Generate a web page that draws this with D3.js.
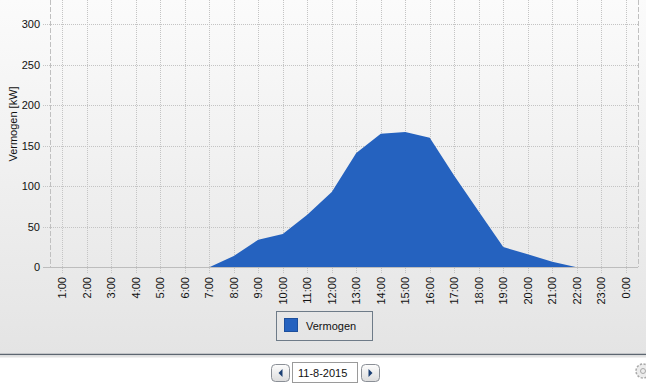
<!DOCTYPE html>
<html>
<head>
<meta charset="utf-8">
<script src="https://cdn.jsdelivr.net/npm/d3@7"></script>
<style>
  body { margin: 0; background: #fff; }
  svg { display: block; font-family: "Liberation Sans", Arial, sans-serif; }
</style>
</head>
<body>
<svg id="chart" width="646" height="385"></svg>
<script>
// hours on the x axis
const hours = ["1:00", "2:00", "3:00", "4:00", "5:00", "6:00", "7:00", "8:00",
  "9:00", "10:00", "11:00", "12:00", "13:00", "14:00", "15:00", "16:00",
  "17:00", "18:00", "19:00", "20:00", "21:00", "22:00", "23:00", "0:00"];
// power per hour (kW)
const vermogen = [0, 0, 0, 0, 0, 0, 0, 14, 34, 41, 65, 93, 141, 165, 167, 160,
  113, 69, 25, 16, 7, 0, 0, 0];
const yTicks = [0, 50, 100, 150, 200, 250, 300];
const seriesName = "Vermogen";
const dateLabel = "11-8-2015";

const W = 646, H = 385;
const margin = { top: 0, right: 8, bottom: 118, left: 50 };
const svg = d3.select("#chart");

// background gradient
const defs = svg.append("defs");
const bg = defs.append("linearGradient").attr("id", "bg")
  .attr("x1", 0).attr("y1", 0).attr("x2", 0).attr("y2", 1);
bg.append("stop").attr("offset", "0%").attr("stop-color", "#fbfbfb");
bg.append("stop").attr("offset", "100%").attr("stop-color", "#e4e4e4");
const btn = defs.append("linearGradient").attr("id", "btn")
  .attr("x1", 0).attr("y1", 0).attr("x2", 0).attr("y2", 1);
btn.append("stop").attr("offset", "0%").attr("stop-color", "#fdfdfd");
btn.append("stop").attr("offset", "100%").attr("stop-color", "#dcdcdc");

svg.append("rect").attr("width", W).attr("height", 354).attr("fill", "url(#bg)");

const x = d3.scalePoint().domain(hours).range([50, 638]).padding(0.5);
const y = d3.scaleLinear().domain([0, 330]).range([267.3, 0]);

// grid
const grid = svg.append("g");
grid.selectAll("line.h").data(yTicks.filter(d => d > 0)).enter().append("line")
  .attr("x1", 43).attr("x2", 638)
  .attr("y1", d => Math.round(y(d)) + 0.5).attr("y2", d => Math.round(y(d)) + 0.5)
  .attr("stroke", "#c4c4c4").attr("stroke-dasharray", "1,1");
grid.selectAll("line.v").data(hours).enter().append("line")
  .attr("x1", d => Math.round(x(d)) + 0.5).attr("x2", d => Math.round(x(d)) + 0.5)
  .attr("y1", 0).attr("y2", 274)
  .attr("stroke", "#c4c4c4").attr("stroke-dasharray", "1,1");

// left and right borders
svg.append("line").attr("x1", 50.5).attr("x2", 50.5).attr("y1", 0).attr("y2", 267)
  .attr("stroke", "#c0c0c0").attr("stroke-dasharray", "5,2");
svg.append("line").attr("x1", 638.5).attr("x2", 638.5).attr("y1", 0).attr("y2", 267)
  .attr("stroke", "#c0c0c0").attr("stroke-dasharray", "5,2");

// area
const area = d3.area()
  .x((d, i) => x(hours[i]))
  .y0(y(0))
  .y1(d => y(d));
svg.append("path").datum(vermogen)
  .attr("d", area)
  .attr("fill", "#2562bf");

// x axis baseline
svg.append("line").attr("x1", 43).attr("x2", 638).attr("y1", 267.5).attr("y2", 267.5)
  .attr("stroke", "#bdbdbd");

// y tick labels
svg.append("g").selectAll("text").data(yTicks).enter().append("text")
  .attr("x", 40).attr("y", d => y(d)).attr("dy", "0.35em")
  .attr("text-anchor", "end").attr("font-size", 11).attr("fill", "#111")
  .text(d => d);

// x tick labels
svg.append("g").selectAll("text").data(hours).enter().append("text")
  .attr("transform", d => "translate(" + x(d) + ",277) rotate(-90)")
  .attr("dy", "0.35em").attr("text-anchor", "end")
  .attr("font-size", 11).attr("fill", "#111")
  .text(d => d);

// y axis title
svg.append("text")
  .attr("transform", "translate(16.5,124) rotate(-90)")
  .attr("text-anchor", "middle").attr("font-size", 11).attr("fill", "#111")
  .text("Vermogen [kW]");

// legend
const lg = svg.append("g");
lg.append("rect").attr("x", 276.5).attr("y", 311.5).attr("width", 96).attr("height", 29)
  .attr("fill", "none").attr("stroke", "#6e7b88");
lg.append("rect").attr("x", 284.5).attr("y", 318.5).attr("width", 13).attr("height", 13)
  .attr("fill", "#2562bf").attr("stroke", "#1d4f9c");
lg.append("text").attr("x", 306).attr("y", 330).attr("font-size", 11).attr("fill", "#111")
  .text(seriesName);

// bottom toolbar
svg.append("line").attr("x1", 0).attr("x2", W).attr("y1", 354.5).attr("y2", 354.5)
  .attr("stroke", "#5d6670").attr("stroke-width", 1.5);
svg.append("rect").attr("x", 0).attr("y", 355.5).attr("width", W).attr("height", 2)
  .attr("fill", "#e2e2e2");

function button(x0, dir) {
  const g = svg.append("g");
  g.append("rect").attr("x", x0 + 0.5).attr("y", 364.5).attr("width", 18).attr("height", 17)
    .attr("rx", 4).attr("fill", "url(#btn)").attr("stroke", "#8a8f96");
  const cx = x0 + 9.5, cy = 373;
  const pts = dir < 0
    ? [[cx + 2, cy - 4], [cx + 2, cy + 4], [cx - 2, cy]]
    : [[cx - 2, cy - 4], [cx - 2, cy + 4], [cx + 2, cy]];
  g.append("polygon").attr("points", pts.map(p => p.join(",")).join(" "))
    .attr("fill", "#1b3f73");
}
button(271, -1);
button(361, 1);
svg.append("rect").attr("x", 292.5).attr("y", 362.5).attr("width", 65).attr("height", 20)
  .attr("fill", "#fff").attr("stroke", "#9a9a9a");
svg.append("text").attr("x", 298).attr("y", 377).attr("font-size", 11).attr("fill", "#111")
  .text(dateLabel);

// settings gear (cut off at the right edge)
const gear = svg.append("g").attr("transform", "translate(643,371)");
gear.append("circle").attr("r", 7).attr("fill", "#ececec").attr("stroke", "#a8a8a8")
  .attr("stroke-width", 1.5).attr("stroke-dasharray", "2.2,1.5");
gear.append("circle").attr("r", 2.5).attr("fill", "none").attr("stroke", "#a8a8a8");
</script>
</body>
</html>
